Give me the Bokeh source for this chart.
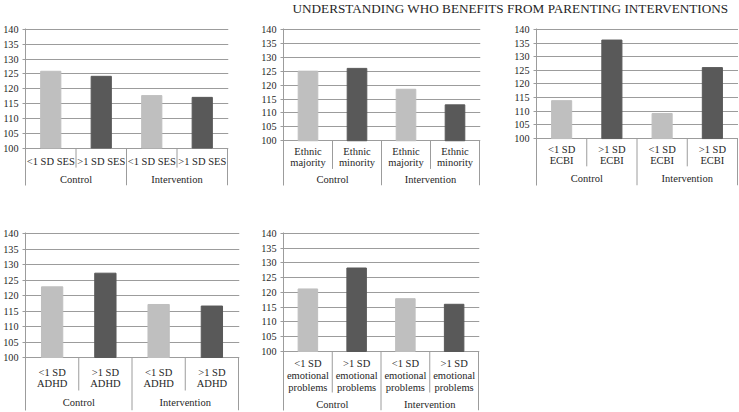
from bokeh.plotting import figure
from bokeh.models import Range1d, FixedTicker, ColumnDataSource, Spacer
from bokeh.layouts import column, row
from bokeh.embed import file_html
from bokeh.resources import INLINE
from bokeh.core.properties import value

# ---------------- data ----------------
title_text = "UNDERSTANDING WHO BENEFITS FROM PARENTING INTERVENTIONS"
groups = ["Control", "Intervention"]
y_ticks = [100, 105, 110, 115, 120, 125, 130, 135, 140]

ses_labels = ["<1 SD SES", ">1 SD SES"]
ses_values = [125.9, 124.2, 117.7, 117.1]

ethnic_labels = ["Ethnic\nmajority", "Ethnic\nminority"]
ethnic_values = [125.0, 126.0, 118.5, 112.9]

ecbi_labels = ["<1 SD\nECBI", ">1 SD\nECBI"]
ecbi_values = [113.9, 136.1, 109.2, 126.0]

adhd_labels = ["<1 SD\nADHD", ">1 SD\nADHD"]
adhd_values = [122.8, 127.2, 117.1, 116.6]

emo_labels = ["<1 SD\nemotional\nproblems", ">1 SD\nemotional\nproblems"]
emo_values = [121.2, 128.3, 117.9, 116.0]

# ---------------- style ----------------
FONT = "Liberation Serif"
TEXT = "#262626"
GRID = "#9c9c9c"
LIGHT = "#bfbfbf"
DARK = "#595959"
LABEL_SIZE = "10.5px"

# panel geometry measured in reference pixels
G1 = dict(left=24, right=227, top=28.3, y100=147.3, bottom=185, sub=[161], inner=167, group=179)
G2 = dict(left=283, right=479, top=29, y100=151.7, bottom=201, sub=[164, 176], inner=182.7, group=194)
G3 = dict(left=535.7, right=737, top=29, y100=148.6, bottom=200, sub=[161, 173], inner=179, group=192)
G4 = dict(left=24.3, right=237.7, top=232.7, y100=357, bottom=410, sub=[372, 383], inner=390, group=402)
G5 = dict(left=283, right=478, top=230, y100=350, bottom=410, sub=[362.7, 374, 386.7], inner=391.7, group=404)


def panel(labels, values, g, box):
    bx, by, bw, bh = box
    fl = round(g["left"] - bx)
    fr = round(g["right"] - bx)
    ft = round(g["top"] - by)
    f100 = g["y100"] - by
    fb = min(round(g["bottom"] - by), bh)
    n = len(values)
    kx = (fr - fl) / float(n)
    ky = (f100 - ft) / 40.0
    frame_w = fr - fl + 1

    def yval(ref_y):
        return 140 - ((ref_y - by) - ft) / ky

    y_start = 140 - (fb - ft) / ky
    p = figure(width=bw, height=bh, output_backend="svg", toolbar_location=None,
               x_range=Range1d(-0.5, n - 0.5 + 1.0 / kx),
               y_range=Range1d(y_start, 140 + 1.0 / ky),
               x_axis_location=None,
               min_border_left=fl, min_border_right=max(bw - fl - frame_w, 0),
               min_border_top=ft - 1, min_border_bottom=bh - fb)
    p.outline_line_color = None
    p.background_fill_color = "white"
    p.xgrid.visible = False

    ax = p.yaxis[0]
    ax.ticker = FixedTicker(ticks=y_ticks)
    p.ygrid.ticker = ax.ticker
    p.ygrid.grid_line_color = GRID
    ax.axis_line_color = GRID
    ax.major_tick_line_color = GRID
    ax.major_tick_out = 3
    ax.major_tick_in = 0
    ax.minor_tick_line_color = None
    ax.major_label_text_font = FONT
    ax.major_label_text_font_size = "10.2px"
    ax.major_label_text_color = TEXT
    ax.major_label_standoff = 4

    xs = list(range(n))
    colors = [LIGHT if i % 2 == 0 else DARK for i in xs]
    src = ColumnDataSource(dict(x=xs, top=values, color=colors))
    p.vbar(x="x", top="top", bottom=100, width=0.4, fill_color="color",
           line_color="color", source=src)

    # category separators below the baseline
    sep_x = [i + 0.5 for i in xs]
    sep_y1 = [yval(g["inner"]) if i % 2 == 0 else y_start for i in xs]
    p.segment(x0=sep_x, y0=[100] * n, x1=sep_x, y1=sep_y1, line_color=GRID, line_width=1)

    # sub-category labels
    tx_x, tx_y, tx_t = [], [], []
    for i in xs:
        lines = labels[i % 2].split("\n")
        for j, line in enumerate(lines):
            tx_x.append(i)
            tx_y.append(yval(g["sub"][j]))
            tx_t.append(line)
    # group labels
    for k, grp in enumerate(groups):
        tx_x.append(2 * k + 0.5)
        tx_y.append(yval(g["group"]))
        tx_t.append(grp)
    p.text(x=tx_x, y=tx_y, text=tx_t, text_font=value(FONT),
           text_font_size=value(LABEL_SIZE), text_align="center",
           text_baseline="middle", text_color=TEXT)
    return p


TITLE_H = 22
TITLE_X = 256
ROW1_Y, ROW1_H = TITLE_H, 190
ROW2_Y, ROW2_H = 212, 199

f1 = panel(ses_labels, ses_values, G1, (0, ROW1_Y, 256, ROW1_H))
f2 = panel(ethnic_labels, ethnic_values, G2, (256, ROW1_Y, 254, ROW1_H))
f3 = panel(ecbi_labels, ecbi_values, G3, (510, ROW1_Y, 228, ROW1_H))
f4 = panel(adhd_labels, adhd_values, G4, (0, ROW2_Y, 256, ROW2_H))
f5 = panel(emo_labels, emo_values, G5, (256, ROW2_Y, 254, ROW2_H))

tw = 738 - TITLE_X
tf = figure(width=tw, height=TITLE_H, x_range=Range1d(TITLE_X, 738), y_range=Range1d(0, TITLE_H),
            x_axis_location=None, y_axis_location=None, min_border=0,
            toolbar_location=None, output_backend="svg")
tf.outline_line_color = None
tf.grid.visible = False
tf.background_fill_color = "white"
tf.border_fill_color = "white"
tf.text(x=[292], y=[TITLE_H - 8], text=[title_text], text_font=value(FONT),
        text_font_size=value("13.2px"), text_baseline="middle", text_align="left",
        text_color=TEXT)

top = row(Spacer(width=TITLE_X, height=TITLE_H), tf, spacing=0)
layout = column(top, row(f1, f2, f3, spacing=0), row(f4, f5, spacing=0), spacing=0)

open("out.html", "w").write(file_html(layout, INLINE))
